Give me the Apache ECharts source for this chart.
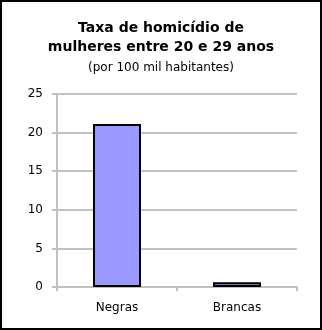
<!DOCTYPE html>
<html>
<head>
<meta charset="utf-8">
<script src="https://cdn.jsdelivr.net/npm/echarts@6/dist/echarts.min.js"></script>
<style>
html,body{margin:0;padding:0;background:#fff;}
#c{width:322px;height:330px;box-sizing:border-box;border:2px solid #000;}
</style>
</head>
<body>
<div id="c"></div>
<script>
var categories = ['Negras', 'Brancas'];
var values = [21.1, 0.6];
var yTicks = [0, 5, 10, 15, 20, 25];

var chart = echarts.init(document.getElementById('c'));
chart.setOption({
  animation: false,
  backgroundColor: '#fff',
  title: [
    {text: 'Taxa de homicídio de\nmulheres entre 20 e 29 anos', left: 'center', top: 12,
     textStyle: {fontFamily: 'DejaVu Sans', fontSize: 14, fontWeight: 'bold', color: '#000', lineHeight: 19}},
    {text: '(por 100 mil habitantes)', left: 'center', top: 55,
     textStyle: {fontFamily: 'DejaVu Sans', fontSize: 12, fontWeight: 'normal', color: '#000'}}
  ],
  grid: {left: 55, right: 23, top: 92, bottom: 41},
  xAxis: {
    type: 'category', data: categories,
    axisLine: {lineStyle: {color: '#c0c0c0', width: 2}},
    axisTick: {show: true, length: 4, lineStyle: {color: '#c0c0c0', width: 2}},
    axisLabel: {fontFamily: 'DejaVu Sans', fontSize: 12, color: '#000', margin: 15}
  },
  yAxis: {
    type: 'value', min: 0, max: yTicks[yTicks.length-1], interval: 5,
    axisLine: {show: true, lineStyle: {color: '#c0c0c0', width: 2}},
    axisTick: {show: true, length: 5, lineStyle: {color: '#c0c0c0', width: 2}},
    splitLine: {lineStyle: {color: '#c0c0c0', width: 2}},
    axisLabel: {fontFamily: 'DejaVu Sans', fontSize: 12, color: '#000', margin: 14}
  },
  series: [{
    type: 'bar', data: values, barWidth: '40%',
    itemStyle: {color: '#9999ff', borderColor: '#000', borderWidth: 2}
  }]
});
</script>
</body>
</html>
